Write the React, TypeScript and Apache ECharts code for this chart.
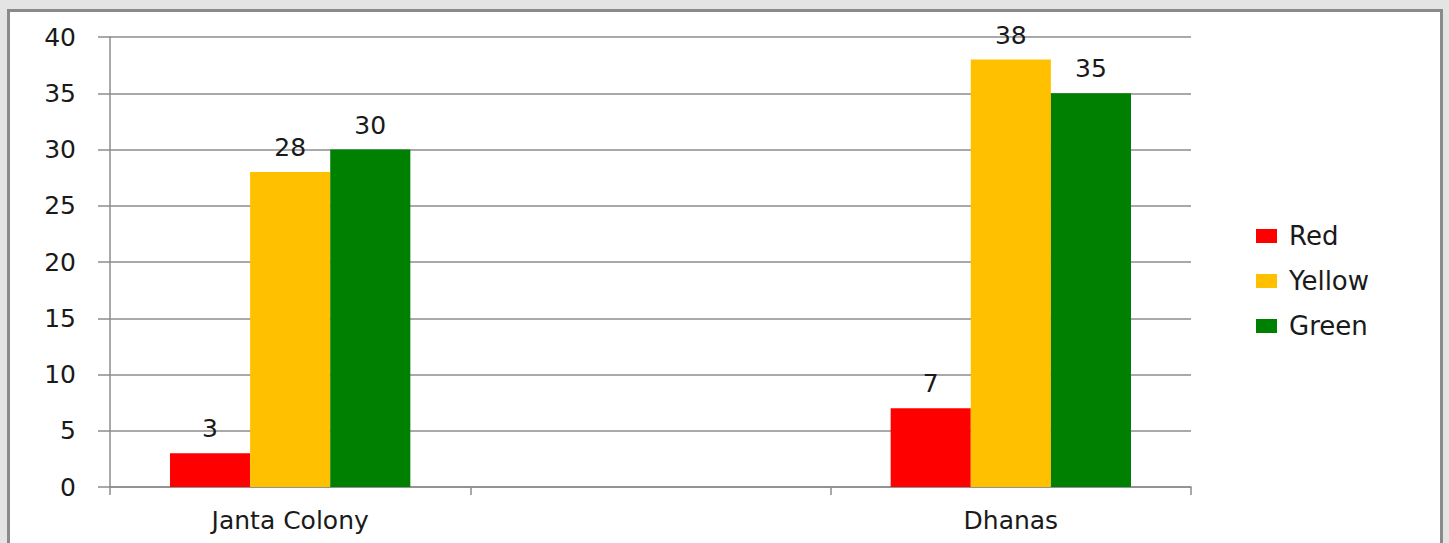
import React, { useEffect, useRef } from "react";
import * as echarts from "echarts";

const categories = ["Janta Colony", "", "Dhanas"];
const redValues = [3, null, 7];
const yellowValues = [28, null, 38];
const greenValues = [30, null, 35];
const seriesNames = ["Red", "Yellow", "Green"];
const seriesColors = ["#ff0000", "#ffc000", "#008000"];
const yTicks = { min: 0, max: 40, interval: 5 };

export default function App() {
  const ref = useRef<HTMLDivElement>(null);
  useEffect(() => {
    document.body.style.margin = "0";
    const chart = echarts.init(ref.current!, null, { renderer: "svg" });
    const font = "DejaVu Sans";
    const textColor = "#1a1a1a";
    const dataSets = [redValues, yellowValues, greenValues];
    chart.setOption({
      animation: false,
      backgroundColor: "#e4e4e4",
      textStyle: { fontFamily: font },
      graphic: [
        {
          type: "rect",
          z: -10,
          shape: { x: 8.5, y: 10.5, width: 1433, height: 560 },
          style: { fill: "#ffffff", stroke: "#8a8a8a", lineWidth: 3 },
        },
      ],
      grid: { left: 110, right: 258, top: 37, bottom: 56, containLabel: false },
      legend: {
        orient: "vertical",
        left: 1251,
        top: 218,
        itemWidth: 21,
        itemHeight: 14,
        itemGap: 19,
        icon: "rect",
        textStyle: { fontSize: 26, color: textColor, fontFamily: font, padding: [0, 0, 0, 7] },
        data: seriesNames,
      },
      xAxis: {
        type: "category",
        data: categories,
        axisLine: { lineStyle: { color: "#8c8c8c", width: 1.5 } },
        axisTick: { show: true, interval: 0, length: 8, lineStyle: { color: "#8c8c8c", width: 1.5 } },
        axisLabel: { interval: 0, fontSize: 25, color: textColor, margin: 21, fontFamily: font },
      },
      yAxis: {
        type: "value",
        min: yTicks.min,
        max: yTicks.max,
        interval: yTicks.interval,
        axisLine: { show: true, lineStyle: { color: "#8c8c8c", width: 1.5 } },
        axisTick: { show: true, length: 12, lineStyle: { color: "#8c8c8c", width: 1.5 } },
        splitLine: { lineStyle: { color: "#8c8c8c", width: 1.5 } },
        axisLabel: { fontSize: 25, color: textColor, margin: 34, fontFamily: font },
      },
      series: seriesNames.map((name, i) => ({
        name,
        type: "bar",
        data: dataSets[i],
        barGap: "0%",
        barCategoryGap: "33.3%",
        itemStyle: { color: seriesColors[i] },
        label: {
          show: true,
          position: "top",
          distance: 12,
          fontSize: 25,
          color: textColor,
          fontFamily: font,
        },
      })),
    });
    return () => chart.dispose();
  }, []);
  return <div ref={ref} style={{ width: 1449, height: 543 }} />;
}
